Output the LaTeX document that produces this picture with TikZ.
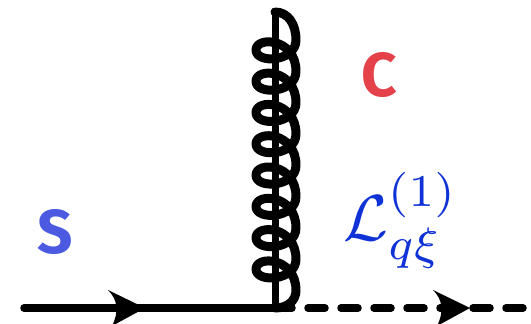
\documentclass[tikz,border=0pt]{standalone}
\usepackage{amsmath}
\usepackage{xcolor}
\usepackage{fontspec}
\newfontfamily\labelfont{Fira Sans}
\definecolor{softblue}{RGB}{75,90,225}
\definecolor{softred}{RGB}{228,65,75}
\definecolor{lagblue}{RGB}{15,50,215}
\tikzset{
  quark/.style={line width=7.5pt,line cap=round},
  xiline/.style={line width=7.5pt,line cap=round,dash pattern=on 17pt off 16pt},
  gluon/.style={line width=9pt,line cap=round,line join=round},
  fermiontip/.pic={\fill (0,0) -- (-37,-18) .. controls (-27,-8) and (-26,4) .. (-33,18) -- cycle;}
}

\begin{document}
\begin{tikzpicture}[x=1pt,y=-1pt]
\useasboundingbox (0,0) rectangle (531,324);
\coordinate (start) at (24,308);
\coordinate (vertex) at (275,308);
\coordinate (end) at (523,308);
\coordinate (top) at (275,12);
\coordinate (tipq) at (145,308);
\coordinate (tipxi) at (470,308);
\draw[quark] (start) -- (vertex);
\draw[xiline] (vertex) -- (end);
\draw[line width=7pt,line cap=round] (vertex) -- (top);
\pic at (tipq) {fermiontip};
\pic at (tipxi) {fermiontip};
\draw[gluon] (top) .. controls (288,12) and (296,24) .. (296,40)
  \foreach \k [evaluate=\k as \y using 31.3*\k] in {0,...,7} {
    .. controls (296,{62+\y}) and (256,{64+\y}) .. (256,{50+\y})
    .. controls (256,{36+\y}) and (296,{38+\y}) .. (296,{71.3+\y})
  }
  .. controls (296,{71.3+7*31.3+10}) and (288,308) .. (vertex);
\node[softblue,font=\labelfont\bfseries\fontsize{62}{62}\selectfont] (softlabel) at (55,232) {S};
\node[softred,font=\labelfont\bfseries\fontsize{62}{62}\selectfont] (collinearlabel) at (379,75) {C};
\node[lagblue,anchor=base west,inner sep=0pt,scale=6.5] (lagrangian) at (342,240) {$\mathcal{L}_{q\xi}^{(1)}$};
\end{tikzpicture}
\end{document}
